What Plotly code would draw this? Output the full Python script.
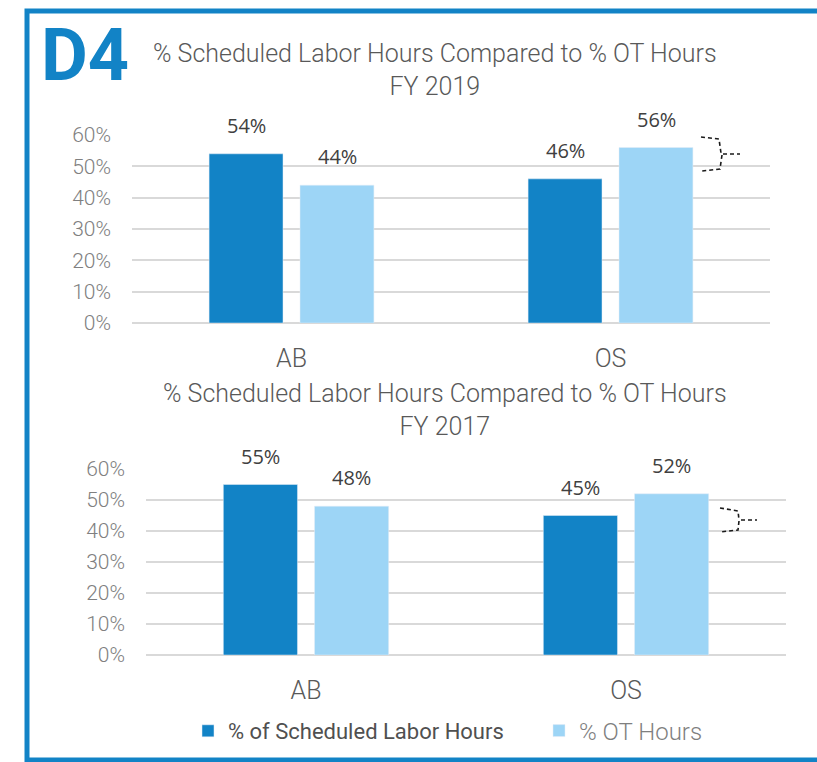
import plotly.graph_objects as go

OFF = 0
W, H = 817, 762

categories = ["AB", "OS"]
sched_2019 = [54, 46]
ot_2019 = [44, 56]
sched_2017 = [55, 45]
ot_2017 = [48, 52]
y_ticks = [0, 10, 20, 30, 40, 50, 60]
y_tick_labels = ["0%", "10%", "20%", "30%", "40%", "50%", "60%"]

title_2019 = "% Scheduled Labor Hours Compared to % OT Hours<br>FY 2019"
title_2017 = "% Scheduled Labor Hours Compared to % OT Hours<br>FY 2017"
name_sched = "% of Scheduled Labor Hours"
name_ot = "% OT Hours"

DARK = "#1283c6"
LIGHT = "#9dd5f6"
FONT = "Roboto"


def px(x):
    return (x - OFF) / W


def py(y):
    return 1 - (y - OFF) / H


fig = go.Figure()

fig.add_trace(go.Bar(x=categories, y=sched_2019, name=name_sched, marker_color=DARK,
                     xaxis="x", yaxis="y", legend="legend"))
fig.add_trace(go.Bar(x=categories, y=ot_2019, name=name_ot, marker_color=LIGHT,
                     xaxis="x", yaxis="y", legend="legend2"))
fig.add_trace(go.Bar(x=categories, y=sched_2017, name=name_sched, marker_color=DARK,
                     xaxis="x2", yaxis="y2", showlegend=False))
fig.add_trace(go.Bar(x=categories, y=ot_2017, name=name_ot, marker_color=LIGHT,
                     xaxis="x2", yaxis="y2", showlegend=False))

annotations = []
for xr, yr, s_vals, o_vals in [("x", "y", sched_2019, ot_2019), ("x2", "y2", sched_2017, ot_2017)]:
    for c, sv, ov in zip(categories, s_vals, o_vals):
        for v, shift in [(sv, -45.5), (ov, 45.5)]:
            annotations.append(dict(x=c, y=v, xref=xr, yref=yr, text=f"{v}%", showarrow=False,
                                    xshift=shift, yshift=13, yanchor="bottom",
                                    font=dict(family="Open Sans", size=20, color="#404040")))

annotations.append(dict(x=px(435), y=py(70), xref="paper", yref="paper", text=title_2019,
                        showarrow=False, xanchor="center", yanchor="middle",
                        font=dict(family=FONT, size=25, color="#595959", weight=300)))
annotations.append(dict(x=px(445), y=py(410), xref="paper", yref="paper", text=title_2017,
                        showarrow=False, xanchor="center", yanchor="middle",
                        font=dict(family=FONT, size=25, color="#595959", weight=300)))
annotations.append(dict(x=px(39), y=py(55), xref="paper", yref="paper", text="<b>D4</b>",
                        showarrow=False, xanchor="left", yanchor="middle",
                        font=dict(family=FONT, size=72, color=DARK)))

axis_common = dict(showgrid=False, showline=False, ticks="", fixedrange=True,
                   tickfont=dict(family=FONT, size=25, color="#595959", weight=300),
                   ticklabelstandoff=18)
yaxis_common = dict(range=[0, 60], tickvals=y_ticks, ticktext=y_tick_labels, showgrid=True,
                    gridcolor="#d9d9d9", gridwidth=1.5, zeroline=True, zerolinecolor="#d9d9d9",
                    zerolinewidth=1.5, showline=False, ticks="", ticklabelstandoff=20,
                    fixedrange=True,
                    tickfont=dict(family=FONT, size=21, color="#808080", weight=300))


def dash_path(points):
    return "M " + " L ".join(f"{px(x)},{py(y)}" for x, y in points)


brace_style = dict(type="path", xref="paper", yref="paper",
                   line=dict(color="#1a1a1a", width=1.6, dash="4px,3px"))
shapes = [
    dict(brace_style, path=dash_path([(701, 137), (719, 139), (721, 153), (722, 154)])),
    dict(brace_style, path=dash_path([(722, 155), (720, 169), (702, 171)])),
    dict(brace_style, path=dash_path([(723, 154), (740, 154)])),
    dict(brace_style, path=dash_path([(720, 508), (738, 511), (739, 520)])),
    dict(brace_style, path=dash_path([(739, 521), (738, 530), (720, 532)])),
    dict(brace_style, path=dash_path([(741, 520), (757, 520)])),
    dict(type="rect", xref="paper", yref="paper", x0=px(27), x1=px(840), y0=py(760), y1=py(11),
         line=dict(color=DARK, width=5), fillcolor="rgba(0,0,0,0)", layer="above"),
]

legend_common = dict(orientation="h", xanchor="left", yanchor="middle",
                     bgcolor="rgba(0,0,0,0)", itemwidth=30)

fig.update_layout(
    width=W, height=H, margin=dict(l=0, r=0, t=0, b=0, autoexpand=False),
    paper_bgcolor="white", plot_bgcolor="white",
    barmode="group", bargap=0.43, bargroupgap=0.187,
    xaxis=dict(axis_common, domain=[px(132), px(770)], anchor="y"),
    yaxis=dict(yaxis_common, domain=[py(323), py(135)], anchor="x"),
    xaxis2=dict(axis_common, domain=[px(146), px(786)], anchor="y2"),
    yaxis2=dict(yaxis_common, domain=[py(655), py(469)], anchor="x2"),
    showlegend=True,
    legend=dict(legend_common, x=px(188), y=py(731),
                font=dict(family=FONT, size=22, color="#505050")),
    legend2=dict(legend_common, x=px(539), y=py(731),
                 font=dict(family=FONT, size=24, color="#7f7f7f", weight=300)),
    annotations=annotations,
    shapes=shapes,
)

fig.write_html("out.html",
               config={"displayModeBar": False},
               post_script="document.body.style.margin='0';document.body.style.overflow='hidden';")
